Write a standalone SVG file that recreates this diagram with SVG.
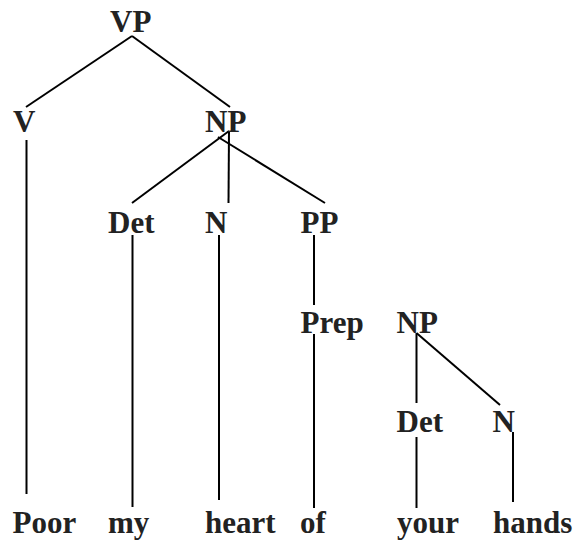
<svg xmlns="http://www.w3.org/2000/svg" width="578" height="545" viewBox="0 0 578 545">
<style>
text{font-family:"Liberation Serif","Times New Roman",serif;font-weight:bold;font-size:31px;fill:#222}
.e{stroke:#000;stroke-width:2;fill:none}
</style>
<rect width="578" height="545" fill="#fff"/>
<g id="connectors">
<line class="e" x1="132" y1="36" x2="26" y2="107"/>
<line class="e" x1="132" y1="36" x2="230" y2="107"/>
<line class="e" x1="26.5" y1="140" x2="26.5" y2="494"/>
<line class="e" x1="229" y1="131" x2="132" y2="203"/>
<line class="e" x1="218" y1="137" x2="325" y2="203"/>
<line class="e" x1="229" y1="131" x2="228.5" y2="203"/>
<line class="e" x1="132.5" y1="235" x2="132.5" y2="507"/>
<line class="e" x1="219" y1="235" x2="219" y2="500"/>
<line class="e" x1="314" y1="235" x2="314" y2="305"/>
<line class="e" x1="314" y1="334" x2="314" y2="508"/>
<line class="e" x1="416.5" y1="333" x2="416.5" y2="403"/>
<line class="e" x1="416.5" y1="333" x2="500" y2="405"/>
<line class="e" x1="416.5" y1="437" x2="416.5" y2="508"/>
<line class="e" x1="513" y1="432" x2="513" y2="502"/>
</g>
<g id="VP"><text x="110" y="32">VP</text></g>
<g id="V"><text x="13" y="132">V</text></g>
<g id="NP"><text x="205" y="132">NP</text></g>
<g id="Det"><text x="108" y="233">Det</text></g>
<g id="N"><text x="205" y="233">N</text></g>
<g id="PP"><text x="300.5" y="233">PP</text></g>
<g id="Prep"><text x="300.5" y="333">Prep</text></g>
<g id="NP2"><text x="396.5" y="333">NP</text></g>
<g id="Det2"><text x="396.5" y="432">Det</text></g>
<g id="N2"><text x="492.5" y="432">N</text></g>
<g id="Poor"><text x="12.5" y="533">Poor</text></g>
<g id="my"><text x="108" y="533">my</text></g>
<g id="heart"><text x="205" y="533">heart</text></g>
<g id="of"><text x="300" y="533">of</text></g>
<g id="your"><text x="397" y="533">your</text></g>
<g id="hands"><text x="493" y="533">hands</text></g>
</svg>
